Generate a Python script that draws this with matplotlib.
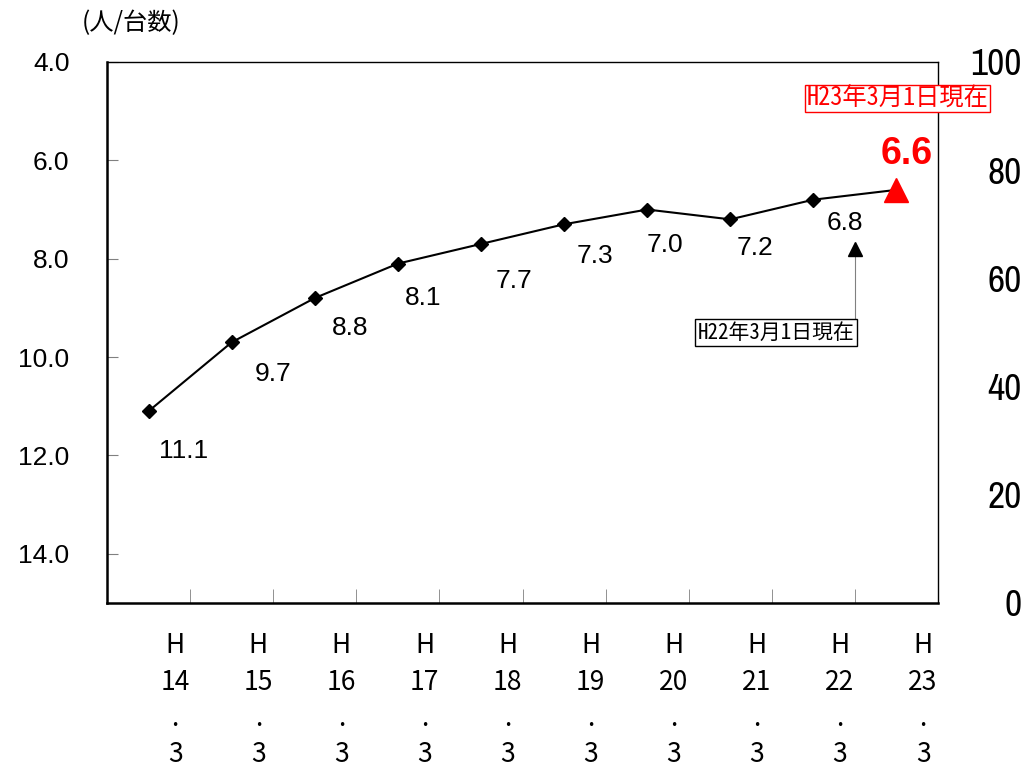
import matplotlib.pyplot as plt
import numpy as np

years = ['14', '15', '16', '17', '18', '19', '20', '21', '22', '23']
persons_per_car = [11.1, 9.7, 8.8, 8.1, 7.7, 7.3, 7.0, 7.2, 6.8, 6.6]
left_ticks = [4.0, 6.0, 8.0, 10.0, 12.0, 14.0]
right_ticks = [0, 20, 40, 60, 80, 100]

# label offsets (px) from each point
lab_dx = [35, 41, 35, 25, 33, 31, 18, 25, 32]
lab_dy = [40, 32, 30, 34, 37, 32, 35, 29, 23]

plt.rcParams['font.family'] = ['Liberation Sans', 'Noto Sans CJK JP', 'DejaVu Sans']
jp = ['Noto Sans CJK JP', 'DejaVu Sans']
jp_mono = ['Noto Sans Mono CJK JP', 'Noto Sans CJK JP', 'DejaVu Sans']

fig = plt.figure(figsize=(10.3, 7.69), dpi=100)
ax = fig.add_axes([0.1039, 0.2159, 0.8068, 0.7035])

x = np.arange(len(years)) + 0.5
ax.plot(x, persons_per_car, color='black', lw=1.5, zorder=2)
ax.plot(x[:-1], persons_per_car[:-1], 'D', color='black', ms=7, zorder=3)
ax.plot(x[-1], persons_per_car[-1], '^', color='red', ms=17, zorder=4)

ax.set_xlim(0, len(years))
ax.set_ylim(15, 4)
ax.set_yticks(left_ticks)
ax.set_yticklabels(['%.1f' % v for v in left_ticks], fontsize=19)
ax.tick_params(axis='y', direction='in', length=8, color='gray', pad=27)

ax.set_xticks(np.arange(1, len(years)), minor=True)
ax.tick_params(axis='x', which='minor', direction='in', length=10, color='gray')
ax.set_xticks(x + 0.32)
ax.set_xticklabels(['H\n%s\n.\n3' % y for y in years], fontsize=19,
                   family=jp, linespacing=1.45)
ax.tick_params(axis='x', which='major', length=0, pad=21)

for s in ['left', 'bottom']:
    ax.spines[s].set_linewidth(1.8)
for s in ['top', 'right']:
    ax.spines[s].set_linewidth(1.0)

for i in range(len(years) - 1):
    ax.annotate('%.1f' % persons_per_car[i], (x[i], persons_per_car[i]),
                xytext=(lab_dx[i] * 0.72, -lab_dy[i] * 0.72), textcoords='offset points',
                ha='center', va='center', fontsize=19)
ax.annotate('%.1f' % persons_per_car[-1], (x[-1], persons_per_car[-1]),
            xytext=(7, 26), textcoords='offset points',
            ha='center', va='center', fontsize=27, fontweight='bold', color='red')

# 右軸
ax2 = ax.twinx()
ax2.set_ylim(0, 100)
ax2.set_yticks(right_ticks)
ax2.set_yticklabels([str(v) for v in right_ticks], fontsize=27,
                    family=['Archivo Narrow', 'DejaVu Sans'], ha='right')
ax2.tick_params(axis='y', length=0, pad=60)
for s in ax2.spines.values():
    s.set_visible(False)

# 注記
ax.text(9.51, 4.75, 'H23年3月1日現在', fontsize=17.5, family=jp_mono, color='red',
        ha='center', va='center', zorder=5,
        bbox=dict(boxstyle='square,pad=0.06', fc='white', ec='red', lw=1))
ax.plot([9.0, 9.0], [9.2, 7.9], color='gray', lw=0.8)
ax.plot(9.0, 7.8, '^', color='black', ms=10)
ax.text(8.05, 9.5, 'H22年3月1日現在', fontsize=15, family=jp_mono, color='black',
        ha='center', va='center',
        bbox=dict(boxstyle='square,pad=0.12', fc='white', ec='black', lw=1))

fig.text(0.127, 0.97, '(人/台数)', fontsize=17.5, family=jp, ha='center', va='center')

plt.savefig('out.png', dpi=100)
